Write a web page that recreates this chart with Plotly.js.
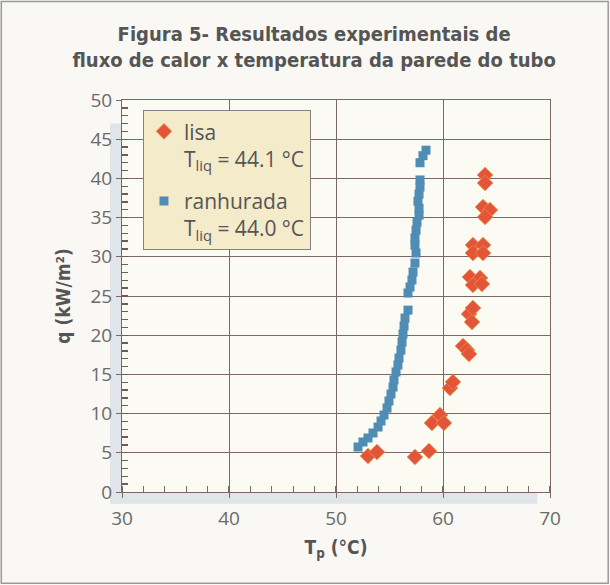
<!DOCTYPE html>
<html>
<head>
<meta charset="utf-8">
<script src="https://cdn.plot.ly/plotly-3.0.1.min.js"></script>
<style>
  html, body { margin: 0; padding: 0; background: #f9f8f4; }
  #chart { width: 610px; height: 585px; }
</style>
</head>
<body>
<div id="chart"></div>
<script>
// Series: lisa (smooth tube) — wall temperature Tp (°C) vs heat flux q (kW/m²)
const lisaT = [52.99, 53.83, 57.38, 58.69, 58.97, 59.72, 60.09, 60.65, 60.93,
               61.87, 62.24, 62.43, 62.43, 62.80, 62.71, 62.52, 63.46, 62.80,
               63.64, 62.80, 63.74, 62.80, 63.74, 63.74, 64.39, 63.93, 63.93, 63.93];
const lisaQ = [4.59, 5.10, 4.46, 5.23, 8.80, 9.82, 8.80, 13.27, 14.03,
               18.62, 18.11, 17.60, 22.70, 23.47, 21.68, 27.42, 27.30, 26.40,
               26.53, 31.50, 31.50, 30.48, 30.48, 36.35, 35.97, 35.08, 40.43, 39.41];

// Series: ranhurada (grooved tube)
const ranhT = [52.06, 52.52, 52.99, 53.46, 53.93, 54.21, 54.49, 54.77, 54.95, 55.14,
               55.33, 55.42, 55.61, 55.79, 55.89, 56.07, 56.17, 56.26, 56.36, 56.45,
               56.73, 56.73, 56.92, 57.10, 57.20, 57.38, 57.48, 57.38, 57.38, 57.48,
               57.57, 57.76, 57.76, 57.66, 57.76, 57.85, 57.85, 57.85, 58.13, 58.41];
const ranhQ = [5.74, 6.38, 6.89, 7.53, 8.29, 9.06, 9.82, 10.71, 11.61, 12.50,
               13.39, 14.29, 15.31, 16.20, 17.09, 18.10, 19.13, 20.15, 21.17, 22.19,
               23.20, 25.38, 26.15, 27.04, 28.06, 29.20, 30.48, 31.50, 32.40, 33.40,
               34.40, 35.30, 36.20, 37.10, 38.00, 38.90, 39.80, 42.00, 42.90, 43.60];

const seriesNames = ['lisa<br>T<sub>liq</sub> = 44.1 °C', 'ranhurada<br>T<sub>liq</sub> = 44.0 °C'];

const gridColor = '#7a6868';
const tickFont = {family: 'Open Sans, Liberation Sans, sans-serif', size: 19, color: '#6a6a6a'};
const boldFont = {family: 'DejaVu Sans Condensed, Liberation Sans, sans-serif', size: 19, color: '#555555'};

const traces = [
  {
    x: lisaT, y: lisaQ, name: seriesNames[0], legendgroup: 'a', type: 'scatter', mode: 'markers',
    xaxis: 'x', yaxis: 'y2',
    marker: {symbol: 'diamond', size: 12, color: '#e2553a', line: {width: 0.8, color: '#f08a3a'}}
  },
  {
    x: ranhT, y: ranhQ, name: seriesNames[1], legendgroup: 'b', type: 'scatter', mode: 'markers',
    xaxis: 'x', yaxis: 'y2',
    marker: {symbol: 'square', size: 9, color: '#4f8db5', line: {width: 0}}
  },
  // empty trace on the base axis that carries the fine 1 kW/m² inner ticks
  {x: [], y: [], xaxis: 'x', yaxis: 'y', type: 'scatter', mode: 'markers',
   showlegend: false, hoverinfo: 'skip'}
];

const layout = {
  width: 610, height: 585,
  margin: {l: 122, r: 60, t: 100, b: 93},
  paper_bgcolor: '#f9f8f4',
  plot_bgcolor: '#fbfaf3',
  showlegend: true,
  title: {
    text: '<b>Figura 5- Resultados experimentais de<br>fluxo de calor x temperatura da parede do tubo</b>',
    font: Object.assign({}, boldFont, {size: 20}),
    x: 0.515, xanchor: 'center', xref: 'container',
    y: 0.93, yanchor: 'top', yref: 'container'
  },
  xaxis: {
    range: [30, 70], tickmode: 'linear', tick0: 30, dtick: 10,
    showgrid: true, gridcolor: gridColor, gridwidth: 1,
    showline: true, linecolor: gridColor, linewidth: 1.2, mirror: true,
    ticks: 'outside', ticklen: 5, tickcolor: gridColor,
    minor: {dtick: 2, ticks: 'inside', ticklen: 6, tickwidth: 1.3, tickcolor: gridColor, showgrid: false},
    zeroline: false, tickfont: tickFont, ticklabelstandoff: 4,
    title: {text: '<b>T<sub>p</sub> (°C)</b>', font: boldFont, standoff: 10}
  },
  // base q axis: only the fine inner ticks every 1 kW/m²
  yaxis: {
    range: [0, 50], tickmode: 'linear', tick0: 0, dtick: 1,
    ticks: 'inside', ticklen: 6, tickcolor: '#6e5c5c', tickwidth: 1.4,
    showticklabels: false, showgrid: false, zeroline: false,
    showline: true, linecolor: gridColor, linewidth: 1.2, mirror: true
  },
  // labelled q axis with grid and major ticks
  yaxis2: {
    overlaying: 'y', side: 'left', anchor: 'x', range: [0, 50],
    tickmode: 'linear', tick0: 0, dtick: 5,
    showgrid: true, gridcolor: gridColor, gridwidth: 1,
    ticks: 'outside', ticklen: 5, tickcolor: gridColor,
    showline: false, zeroline: false, tickfont: tickFont,
    title: {text: '<b>q (kW/m²)</b>', font: boldFont, standoff: 14}
  },
  legend: {
    x: 0.049, y: 0.974, xanchor: 'left', yanchor: 'top',
    bgcolor: '#f4ebcb', bordercolor: '#8a8080', borderwidth: 1,
    font: {family: 'Open Sans, Liberation Sans, sans-serif', size: 21, color: '#555555'},
    valign: 'top', tracegroupgap: 12, itemwidth: 30
  },
  shapes: [
    // print shadow strips along axes
    {type: 'rect', xref: 'paper', yref: 'paper', x0: -0.028, x1: -0.002, y0: -0.03, y1: 0.94,
     fillcolor: '#dfe5e8', line: {width: 0}, layer: 'below'},
    {type: 'rect', xref: 'paper', yref: 'paper', x0: -0.028, x1: 0.97, y0: -0.03, y1: -0.002,
     fillcolor: '#dfe5e8', line: {width: 0}, layer: 'below'},
    // outer frame
    {type: 'rect', xref: 'paper', yref: 'paper', x0: -0.282, x1: 1.136, y0: -0.233, y1: 1.251,
     fillcolor: 'rgba(0,0,0,0)', line: {width: 1.5, color: '#9a9a9a'}}
  ]
};

Plotly.newPlot('chart', traces, layout, {displayModeBar: false, staticPlot: true});
</script>
</body>
</html>
